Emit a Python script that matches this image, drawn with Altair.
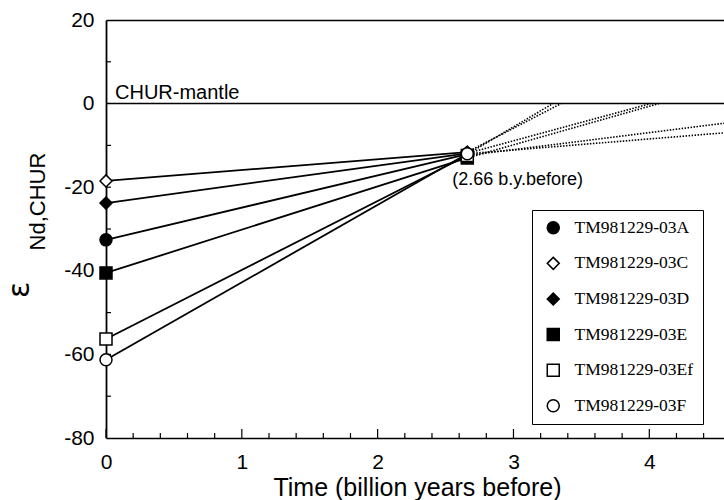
import altair as alt
import pandas as pd

# Samples and their epsilon-Nd values: present day and at the 2.66 Ga model age
samples = ["TM981229-03A", "TM981229-03C", "TM981229-03D",
           "TM981229-03E", "TM981229-03Ef", "TM981229-03F"]
eps_present = [-32.6, -18.5, -23.8, -40.5, -56.3, -61.3]
model_age = 2.66
eps_at_model_age = [-12.1, -11.6, -11.9, -13.0, -12.4, -12.0]

# Dotted source-evolution lines continuing beyond the model age
source_end_time = [3.29, 3.35, 4.01, 4.07, 4.55, 4.55]
source_end_eps = [0.0, 0.0, 0.0, 0.0, -4.7, -7.0]

marker_shapes = ["circle", "diamond", "diamond", "square", "square", "circle"]
marker_fills = ["black", "white", "black", "black", "white", "white"]
marker_strokes = ["black", "black", "black", "black", "black", "black"]

x_labels = [0, 1, 2, 3, 4]
x_minor_ticks = [0.2, 0.4, 0.6, 0.8, 1.2, 1.4, 1.6, 1.8, 2.2, 2.4, 2.6, 2.8,
                 3.2, 3.4, 3.6, 3.8, 4.2, 4.4]
y_labels = [-80, -60, -40, -20, 0, 20]
y_ticks = [-70, -60, -50, -40, -30, -20, -10, 10]

W, H = 618, 418
T_MIN, T_MAX = 0.0, 4.55
E_MIN, E_MAX = -80.0, 20.0
FONT = "Liberation Sans"

evol_rows, src_rows = [], []
for s, e0, e1, te, ee in zip(samples, eps_present, eps_at_model_age,
                             source_end_time, source_end_eps):
    evol_rows.append({"sample": s, "t": 0.0, "eps": e0})
    evol_rows.append({"sample": s, "t": model_age, "eps": e1})
    src_rows.append({"sample": s, "t": model_age, "eps": e1})
    src_rows.append({"sample": s, "t": te, "eps": ee})
evol = pd.DataFrame(evol_rows)
src = pd.DataFrame(src_rows)
points = pd.concat([evol[evol.t == 0], evol[evol.t == model_age]], ignore_index=True)

chur = pd.DataFrame({"t": [0.0], "eps": [0.0], "label": ["CHUR-mantle"]})
age_note = pd.DataFrame({"t": [model_age], "eps": [-12.0],
                         "label": [f"({model_age} b.y.before)"]})

# Tick marks drawn inside the frame; their lengths are given in pixels
eps_per_px = (E_MAX - E_MIN) / H
t_per_px = (T_MAX - T_MIN) / W
x_tick_df = pd.DataFrame(
    [{"t": v, "y0": E_MIN, "y1": E_MIN + 9 * eps_per_px} for v in x_labels]
    + [{"t": v, "y0": E_MIN, "y1": E_MIN + 5 * eps_per_px} for v in x_minor_ticks]
)
y_tick_df = pd.DataFrame([{"eps": v, "x0": T_MIN, "x1": T_MIN + 5 * t_per_px}
                          for v in y_ticks])

x_scale = alt.Scale(domain=[T_MIN, T_MAX], nice=False, zero=False)
y_scale = alt.Scale(domain=[E_MIN, E_MAX], nice=False, zero=False)

# Solid evolution lines, carrying the labelled bottom and left axes
x_axis_main = alt.Axis(values=x_labels, format="d", ticks=False, domain=True,
                       domainColor="black", domainWidth=1.6, labelFontSize=21,
                       labelPadding=13, labelFlush=False,
                       title="Time (billion years before)",
                       titleFontSize=25, titleFontWeight="normal", titleX=311,
                       titleY=57, titleBaseline="alphabetic", titleAlign="center")
y_axis_main = alt.Axis(values=y_labels, labelExpr="'' + datum.value", ticks=False,
                       domain=True, domainColor="black", domainWidth=1.8,
                       labelFontSize=21, labelPadding=12, labelFlush=False,
                       title="Nd,CHUR",
                       titleFontSize=22, titleFontWeight="normal", titleAngle=270,
                       titleX=-62, titleY=181, titleBaseline="alphabetic",
                       titleAlign="center")
lines = alt.Chart(evol).mark_line(color="black", strokeWidth=1.8).encode(
    x=alt.X("t:Q", scale=x_scale, axis=x_axis_main),
    y=alt.Y("eps:Q", scale=y_scale, axis=y_axis_main),
    detail="sample:N",
    order="t:Q",
)

dotted = alt.Chart(src).mark_line(color="black", strokeWidth=1.6,
                                  strokeDash=[1.5, 1.5], clip=True).encode(
    x=alt.X("t:Q", scale=x_scale, axis=None),
    y=alt.Y("eps:Q", scale=y_scale, axis=None),
    detail="sample:N",
    order="t:Q",
)

x_tick_marks = alt.Chart(x_tick_df).mark_rule(color="black", strokeWidth=1.2).encode(
    x=alt.X("t:Q", scale=x_scale, axis=None),
    y=alt.Y("y0:Q", scale=y_scale, axis=None),
    y2="y1:Q",
)
y_tick_marks = alt.Chart(y_tick_df).mark_rule(color="black", strokeWidth=1.2).encode(
    y=alt.Y("eps:Q", scale=y_scale, axis=None),
    x=alt.X("x0:Q", scale=x_scale, axis=None),
    x2="x1:Q",
)

chur_line = alt.Chart(chur).mark_rule(color="black", strokeWidth=1.5).encode(
    y=alt.Y("eps:Q", scale=y_scale, axis=None)
)

legend = alt.Legend(title=None, orient="none", legendX=426, legendY=190,
                    padding=9, symbolOffset=3.5, symbolSize=144,
                    symbolStrokeWidth=1.5,
                    labelFont="Liberation Serif", labelFontSize=17.5,
                    labelColor="black", labelOffset=12.5, rowPadding=16.6,
                    labelLimit=300, strokeColor="black", fillColor="white",
                    labelExpr="datum.label + '\u00a0\u00a0\u00a0\u00a0\u00a0\u00a0'")

# Sample markers; this layer also draws the top frame line
x_axis_top = alt.Axis(orient="top", ticks=False, labels=False, domain=True,
                      domainColor="black", domainWidth=1.5, title=None)
marks = alt.Chart(points).mark_point(filled=True, opacity=1,
                                     strokeWidth=1.5, size=144).encode(
    x=alt.X("t:Q", scale=x_scale, axis=x_axis_top),
    y=alt.Y("eps:Q", scale=y_scale, axis=None),
    shape=alt.Shape("sample:N", scale=alt.Scale(domain=samples, range=marker_shapes),
                    legend=legend),
    fill=alt.Fill("sample:N", scale=alt.Scale(domain=samples, range=marker_fills),
                  legend=legend),
    stroke=alt.Stroke("sample:N", scale=alt.Scale(domain=samples, range=marker_strokes),
                      legend=legend),
)

chur_text = alt.Chart(chur).mark_text(align="left", baseline="alphabetic", dx=9,
                                      dy=-5, font=FONT, fontSize=20,
                                      color="black").encode(
    x=alt.X("t:Q", scale=x_scale, axis=None),
    y=alt.Y("eps:Q", scale=y_scale, axis=None),
    text="label:N",
)

age_text = alt.Chart(age_note).mark_text(align="left", baseline="top", dx=-15,
                                         dy=17, font=FONT, fontSize=18,
                                         color="black").encode(
    x=alt.X("t:Q", scale=x_scale, axis=None),
    y=alt.Y("eps:Q", scale=y_scale, axis=None),
    text="label:N",
)

# Greek epsilon in front of the y-axis title
eps_symbol = alt.Chart(chur).mark_text(angle=270, align="center",
                                       baseline="middle", font="DejaVu Sans",
                                       fontSize=30, color="black").encode(
    x=alt.value(-86), y=alt.value(270), text=alt.value("ε")
)

chart = alt.layer(lines, dotted, x_tick_marks, y_tick_marks,
                  chur_line, marks, chur_text, age_text, eps_symbol).resolve_axis(
    x="independent", y="independent"
).properties(
    width=W, height=H,
    autosize=alt.AutoSizeParams(type="none"),
    padding={"left": 106, "top": 20, "right": 0, "bottom": 62},
    background="white",
).configure_view(stroke=None).configure_axis(
    grid=False, labelFont=FONT, titleFont=FONT, labelColor="black",
    titleColor="black"
)

chart.save("out.html", embed_options={"renderer": "svg", "actions": False})
